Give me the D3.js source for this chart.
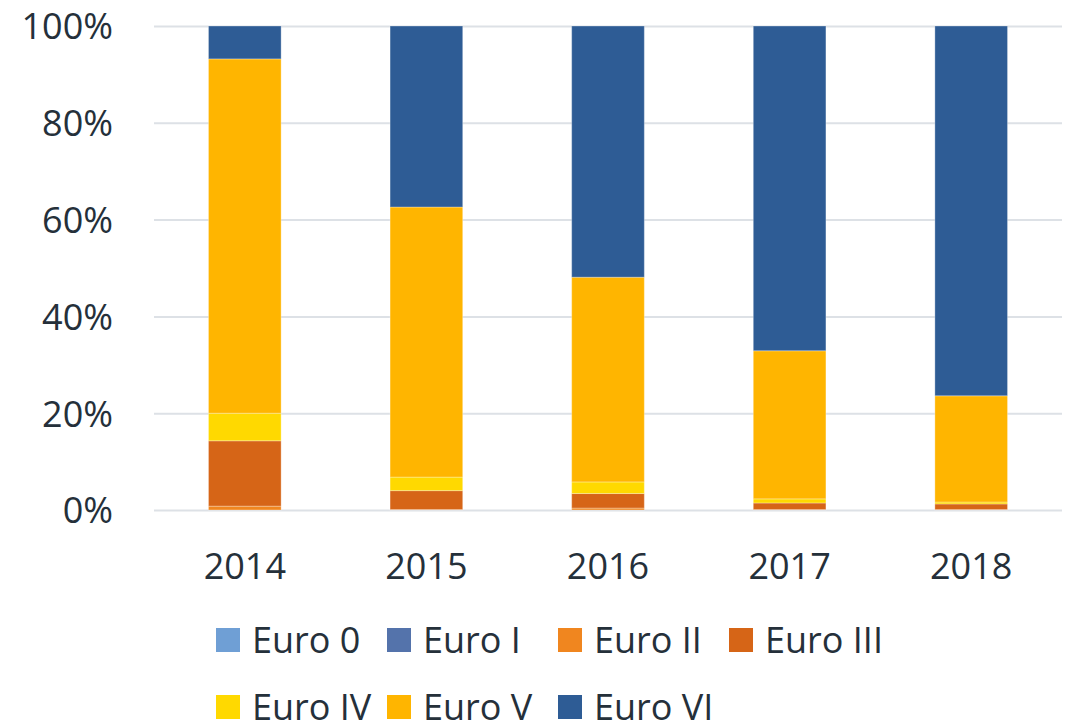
<!DOCTYPE html>
<html>
<head>
<meta charset="utf-8">
<script src="https://cdn.jsdelivr.net/npm/d3@7"></script>
<style>
  body { margin: 0; background: #fff; }
  svg text { font-family: "Open Sans", sans-serif; fill: #25303a; }
</style>
</head>
<body>
<svg id="chart" width="1068" height="722"></svg>
<script>
// data (shares in %)
var years = ['2014', '2015', '2016', '2017', '2018'],
    seriesNames = ['Euro 0', 'Euro I', 'Euro II', 'Euro III', 'Euro IV', 'Euro V', 'Euro VI'],
    seriesColors = ['#6f9fd5', '#5473ab', '#f0861f', '#d66517', '#ffd900', '#ffb500', '#2e5c95'],
    euro0 = [0, 0, 0, 0, 0],
    euro1 = [0, 0, 0, 0, 0],
    euro2 = [0.8, 0.1, 0.4, 0.1, 0.1],
    euro3 = [13.5, 3.9, 3.0, 1.35, 1.15],
    euro4 = [5.7, 2.8, 2.4, 0.85, 0.4],
    euro5 = [73.2, 55.8, 42.3, 30.6, 21.95],
    euro6 = [6.8, 37.4, 51.9, 67.1, 76.4],
    yTicks = [0, 0.2, 0.4, 0.6, 0.8, 1];

var seriesValues = [euro0, euro1, euro2, euro3, euro4, euro5, euro6];

var svg = d3.select('#chart'),
    plotLeft = 154, plotRight = 1062, plotTop = 26, plotBottom = 510;

// one row per year, one key per series
var rows = years.map(function(yr, i) {
  var r = { year: yr };
  seriesNames.forEach(function(s, j) { r[s] = seriesValues[j][i]; });
  return r;
});

var stacked = d3.stack().keys(seriesNames).offset(d3.stackOffsetExpand)(rows);

var x = d3.scaleBand().domain(years).range([plotLeft, plotRight]).paddingInner(0.6).paddingOuter(0.3),
    y = d3.scaleLinear().domain([0, 1]).range([plotBottom, plotTop]),
    color = d3.scaleOrdinal().domain(seriesNames).range(seriesColors);

//
// gridlines
svg.append('g')
  .attr('transform', 'translate(' + plotLeft + ',0)')
  .call(d3.axisLeft(y).tickValues(yTicks).tickSize(-(plotRight - plotLeft)).tickFormat(''))
  .call(function(g) {
    g.select('.domain').remove();
    g.selectAll('line').attr('stroke', '#dde1e6').attr('stroke-width', 2);
  });

//
// y tick labels
svg.append('g')
  .attr('transform', 'translate(113,0)')
  .call(d3.axisLeft(y).tickValues(yTicks).tickSize(0).tickPadding(0).tickFormat(d3.format('.0%')))
  .call(function(g) {
    g.select('.domain').remove();
    g.selectAll('text').attr('font-size', 36).attr('dy', '0.36em')
      .style('font-family', '"Open Sans", sans-serif').style('fill', '#25303a');
  });

//
// stacked bars
svg.selectAll('g.layer').data(stacked).enter()
  .append('g').attr('class', 'layer')
  .attr('fill', function(d) { return color(d.key); })
  .selectAll('rect').data(function(d) { return d; })
  .enter().append('rect')
    .attr('x', function(d) { return x(d.data.year); })
    .attr('width', x.bandwidth())
    .attr('y', function(d) { return y(d[1]); })
    .attr('height', function(d) { return y(d[0]) - y(d[1]); })
    .attr('stroke', '#fff')
    .attr('stroke-opacity', 0.3)
    .attr('stroke-width', function(d) { return (d[1] - d[0]) > 0 ? 1 : 0; });

//
// x axis labels
svg.append('g')
  .attr('transform', 'translate(0,' + plotBottom + ')')
  .call(d3.axisBottom(x).tickSize(0).tickPadding(0))
  .call(function(g) {
    g.select('.domain').remove();
    g.selectAll('text').attr('font-size', 36).attr('dy', null).attr('y', 69)
      .style('font-family', '"Open Sans", sans-serif').style('fill', '#25303a');
  });

//
// legend
var legend = svg.selectAll('g.legend').data(seriesNames).enter()
  .append('g').attr('class', 'legend')
  .attr('transform', function(d, i) {
    return 'translate(' + (216 + (i % 4) * 171) + ',' + (628 + Math.floor(i / 4) * 67) + ')';
  });
legend.append('rect').attr('width', 24).attr('height', 24).attr('fill', color);
legend.append('text').attr('x', 36).attr('y', 25).attr('font-size', 36).text(function(d) { return d; });
</script>
</body>
</html>
